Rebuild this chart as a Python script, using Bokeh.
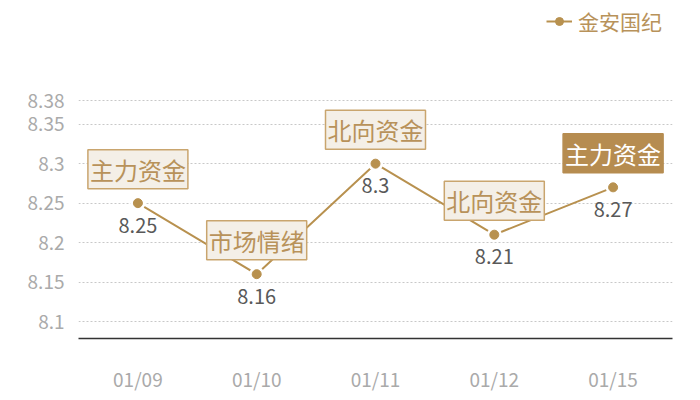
from bokeh.plotting import figure
from bokeh.models import ColumnDataSource, FixedTicker, NumeralTickFormatter, Legend, LegendItem, Range1d
from bokeh.core.properties import value
from bokeh.embed import file_html
from bokeh.resources import INLINE

# ---- data ----
dates = ["01/09", "01/10", "01/11", "01/12", "01/15"]
prices = [8.25, 8.16, 8.3, 8.21, 8.27]
price_labels = ["8.25", "8.16", "8.3", "8.21", "8.27"]
tags = ["主力资金", "市场情绪", "北向资金", "北向资金", "主力资金"]
tag_highlight = [False, False, False, False, True]
y_ticks = [8.1, 8.15, 8.2, 8.25, 8.3, 8.35, 8.38]
series_name = "金安国纪"

# ---- style ----
GOLD = "#b8914f"
TAG_TEXT = "#b8925a"
TAG_FILL = "#f4efe7"
TAG_BORDER = "#c9a56e"
HL_FILL = "#b68c50"
FONT = "Noto Sans CJK SC"

src = ColumnDataSource(dict(
    date=dates,
    price=prices,
    plabel=price_labels,
    tag=tags,
    tag_color=["white" if h else TAG_TEXT for h in tag_highlight],
    tag_fill=[HL_FILL if h else TAG_FILL for h in tag_highlight],
    tag_border=[HL_FILL if h else TAG_BORDER for h in tag_highlight],
))

p = figure(x_range=dates, y_range=Range1d(8.0785, 8.5067),
           width=700, height=400, output_backend="svg", toolbar_location=None,
           min_border_left=78, min_border_right=28, min_border_top=0, min_border_bottom=62)
p.outline_line_color = None
p.background_fill_color = "white"
p.border_fill_color = "white"

line = p.line(x="date", y="price", source=src, line_color=GOLD, line_width=2)
# white halo around markers, then the gold markers
p.scatter(x="date", y="price", source=src, size=15, fill_color="white", line_color=None)
pts = p.scatter(x="date", y="price", source=src, size=9, fill_color=GOLD, line_color=GOLD)

# value labels below points
p.text(x="date", y="price", text="plabel", source=src, text_align="center",
       text_baseline="middle", y_offset=22, text_color="#595959",
       text_font=value(FONT), text_font_size="20px")

# tag boxes above points
p.text(x="date", y="price", text="tag", source=src, anchor="center",
       text_align="center", text_baseline="middle", y_offset=-34,
       text_color="tag_color", text_font=value(FONT), text_font_size="24px",
       background_fill_color="tag_fill", border_line_color="tag_border",
       border_line_width=1.5, padding=2)

# axes
p.yaxis.ticker = FixedTicker(ticks=y_ticks)
p.yaxis.formatter = NumeralTickFormatter(format="0.[00]")
p.yaxis.axis_line_color = None
p.yaxis.major_tick_line_color = None
p.yaxis.minor_tick_line_color = None
p.yaxis.major_label_text_color = "#aaaaaa"
p.yaxis.major_label_text_font = FONT
p.yaxis.major_label_text_font_size = "19px"
p.yaxis.major_label_standoff = 8

p.xaxis.axis_line_color = "#333333"
p.xaxis.axis_line_width = 1.5
p.xaxis.major_tick_line_color = None
p.xaxis.minor_tick_line_color = None
p.xaxis.major_label_text_color = "#aaaaaa"
p.xaxis.major_label_text_font = FONT
p.xaxis.major_label_text_font_size = "19px"
p.xaxis.major_label_standoff = 20

p.xgrid.grid_line_color = None
p.ygrid.grid_line_color = "#c8c8c8"
p.ygrid.grid_line_dash = "2 2"

legend = Legend(items=[LegendItem(label=series_name, renderers=[line, pts])],
                location=(468, 302), border_line_color=None,
                background_fill_alpha=0, label_text_color=TAG_TEXT,
                label_text_font=FONT, label_text_font_size="21px",
                margin=0, padding=0, glyph_width=26, label_standoff=6)
p.add_layout(legend)

open("out.html", "w").write(file_html(p, INLINE))
